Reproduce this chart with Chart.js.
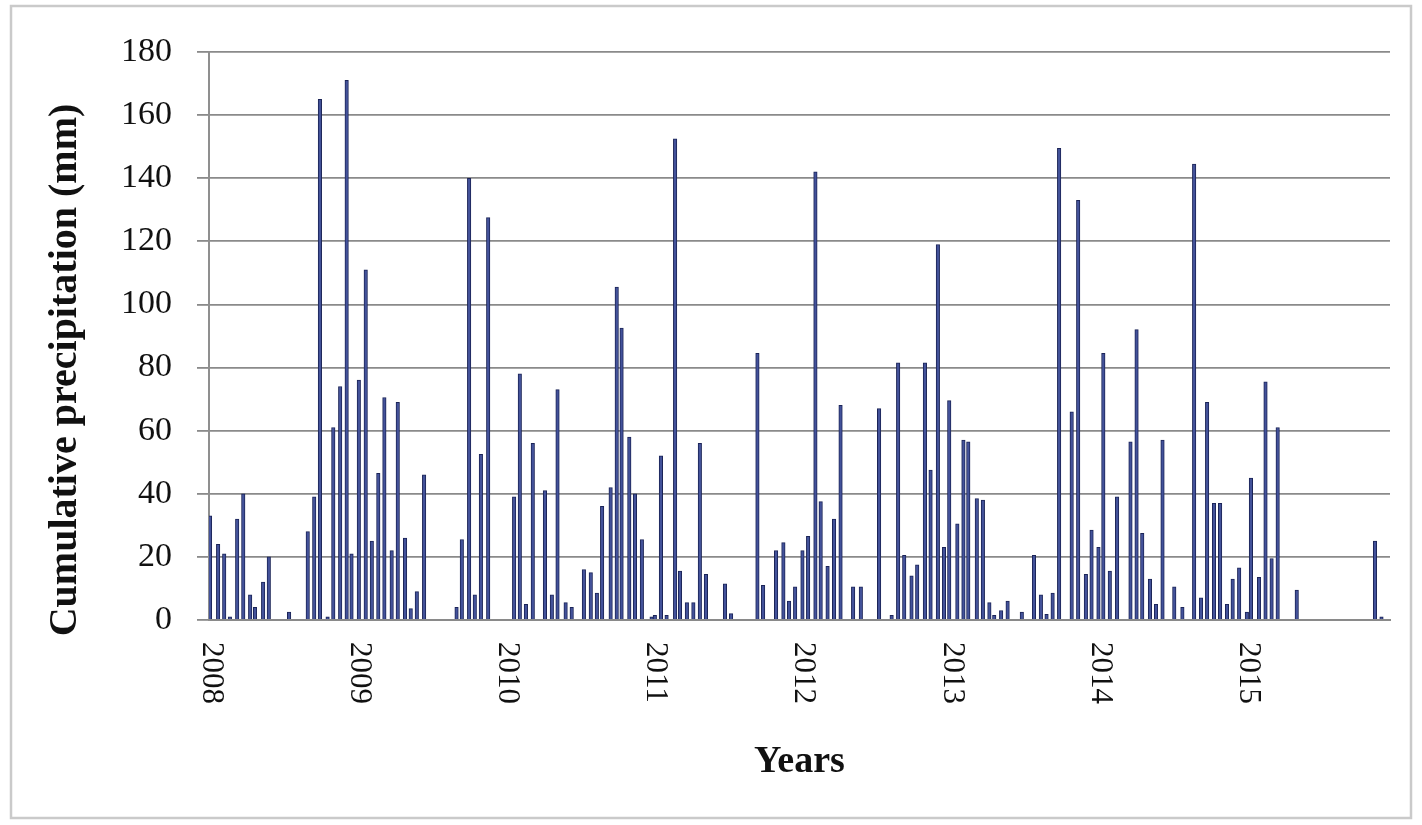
<!DOCTYPE html>
<html>
<head>
<meta charset="utf-8">
<title>Cumulative precipitation 2008–2015</title>
<script src="https://cdn.jsdelivr.net/npm/chart.js@4.4.1/dist/chart.umd.min.js"></script>
<style>
  html, body { margin: 0; padding: 0; background: #fff; }
  canvas { display: block; }
</style>
</head>
<body>
<canvas id="rain" width="1422" height="825"></canvas>
<script>
// Days elapsed since 1 January 2008 for each accumulation period
const recordDay = [
  0, 20, 35, 49, 67, 82, 99, 111, 131, 145, 195, 241, 257, 271, 290, 304, 321, 337, 349,
  367, 384, 399, 415, 430, 448, 463, 481, 495, 510, 528, 608, 621, 639, 653, 668, 686,
  750, 764, 779, 796, 826, 843, 857, 877, 892, 922, 939, 954, 967, 988, 1003, 1015, 1034, 1048, 1065, 1089,
  1097, 1112, 1126, 1147, 1159, 1176, 1192, 1208, 1223, 1270, 1285, 1350, 1364, 1396, 1414, 1428, 1443, 1461,
  1475, 1493, 1506, 1523, 1539, 1555, 1586, 1605, 1650, 1681, 1697, 1712, 1730, 1744, 1763, 1777, 1795, 1810, 1823,
  1843, 1858, 1870, 1891, 1906, 1922, 1934, 1951, 1967, 2002, 2032, 2049, 2063, 2078, 2094, 2125, 2141, 2160, 2174, 2191, 2203,
  2219, 2237, 2270, 2285, 2299, 2318, 2333, 2349, 2378, 2398, 2427, 2444, 2459, 2476, 2491, 2508, 2522, 2538, 2557, 2567,
  2587, 2603, 2618, 2633, 2680, 2873, 2889
];

// Cumulative precipitation of each period (mm)
const precipMm = [
  33, 24, 21, 1, 32, 40, 8, 4, 12, 20, 2.5, 28, 39, 165, 1, 61, 74, 171, 21,
  76, 111, 25, 46.5, 70.5, 22, 69, 26, 3.6, 9, 46, 4, 25.5, 140, 8, 52.5, 127.5,
  39, 78, 5, 56, 41, 8, 73, 5.5, 4, 16, 15, 8.5, 36, 42, 105.5, 92.5, 58, 40, 25.5, 1,
  1.5, 52, 1.5, 152.5, 15.5, 5.5, 5.5, 56, 14.5, 11.5, 2, 84.5, 11, 22, 24.5, 6, 10.5, 22,
  26.5, 142, 37.5, 17, 32, 68, 10.5, 10.5, 67, 1.5, 81.5, 20.5, 14, 17.5, 81.5, 47.5, 119, 23, 69.5,
  30.5, 57, 56.5, 38.5, 38, 5.5, 1.5, 3, 6, 2.5, 20.5, 8, 1.8, 8.5, 149.5, 66, 133, 14.5, 28.5, 23, 84.5,
  15.5, 39, 56.5, 92, 27.5, 13, 5, 57, 10.5, 4, 144.5, 7, 69, 37, 37, 5, 13, 16.5, 2.5, 45,
  13.5, 75.5, 19.5, 61, 9.5, 25, 1
];

// Year boundaries (days since 1 January 2008) and their labels
const yearStartDay = [0, 366, 731, 1096, 1461, 1827, 2192, 2557];
const yearLabels = ['2008', '2009', '2010', '2011', '2012', '2013', '2014', '2015'];

const yAxisTitle = 'Cumulative precipitation (mm)';
const xAxisTitle = 'Years';

const serif = '"Liberation Serif", "Times New Roman", serif';

// Outer frame, year labels read top-to-bottom, and the vertical axis title
const decorations = {
  id: 'decorations',
  beforeDraw(chart) {
    const ctx = chart.ctx;
    ctx.save();
    ctx.fillStyle = '#ffffff';
    ctx.fillRect(0, 0, chart.width, chart.height);
    ctx.strokeStyle = '#cacaca';
    ctx.lineWidth = 2.5;
    ctx.strokeRect(11, 6, 1400, 812);
    ctx.restore();
  },
  afterDraw(chart) {
    const { ctx, scales: { x, y } } = chart;
    ctx.save();
    ctx.fillStyle = '#111';
    ctx.font = '31px ' + serif;
    ctx.textAlign = 'left';
    ctx.textBaseline = 'middle';
    yearStartDay.forEach((d, i) => {
      const px = x.getPixelForValue(d);
      ctx.save();
      ctx.translate(px + 1, y.bottom + 22);
      ctx.rotate(Math.PI / 2);
      ctx.fillText(yearLabels[i], 0, 0);
      ctx.restore();
    });
    ctx.font = 'bold 40px ' + serif;
    ctx.textAlign = 'center';
    ctx.translate(66, 370);
    ctx.rotate(-Math.PI / 2);
    ctx.fillText(yAxisTitle, 0, 0);
    ctx.restore();
  }
};

new Chart(document.getElementById('rain'), {
  type: 'bar',
  data: {
    datasets: [{
      data: recordDay.map((d, i) => ({ x: d, y: precipMm[i] })),
      backgroundColor: '#43529a',
      borderColor: '#1b2457',
      borderWidth: 1,
      barThickness: 3.5
    }]
  },
  options: {
    responsive: false,
    animation: false,
    layout: { padding: { top: 52, right: 32, bottom: 36, left: 0 } },
    plugins: { legend: { display: false }, tooltip: { enabled: false } },
    scales: {
      x: {
        type: 'linear',
        offset: false,
        min: -2.5,
        max: 2910,
        grid: { display: false },
        border: { display: true, color: '#8a8a8a', width: 2 },
        ticks: { display: false },
        afterBuildTicks(scale) { scale.ticks = yearStartDay.map(v => ({ value: v })); },
        afterFit(scale) { scale.height = 169; },
        title: {
          display: true,
          text: xAxisTitle,
          color: '#111',
          font: { family: serif, size: 38, weight: 'bold' },
          padding: { top: 4, bottom: 4 }
        }
      },
      y: {
        min: 0,
        max: 180,
        ticks: {
          stepSize: 20,
          color: '#111',
          padding: 25,
          font: { family: serif, size: 34 }
        },
        grid: { color: '#8a8a8a', lineWidth: 1.8, tickLength: 12 },
        border: { display: true, color: '#8f8f8f', width: 2 },
        afterFit(scale) { scale.width = 209; }
      }
    }
  },
  plugins: [decorations]
});
</script>
</body>
</html>
